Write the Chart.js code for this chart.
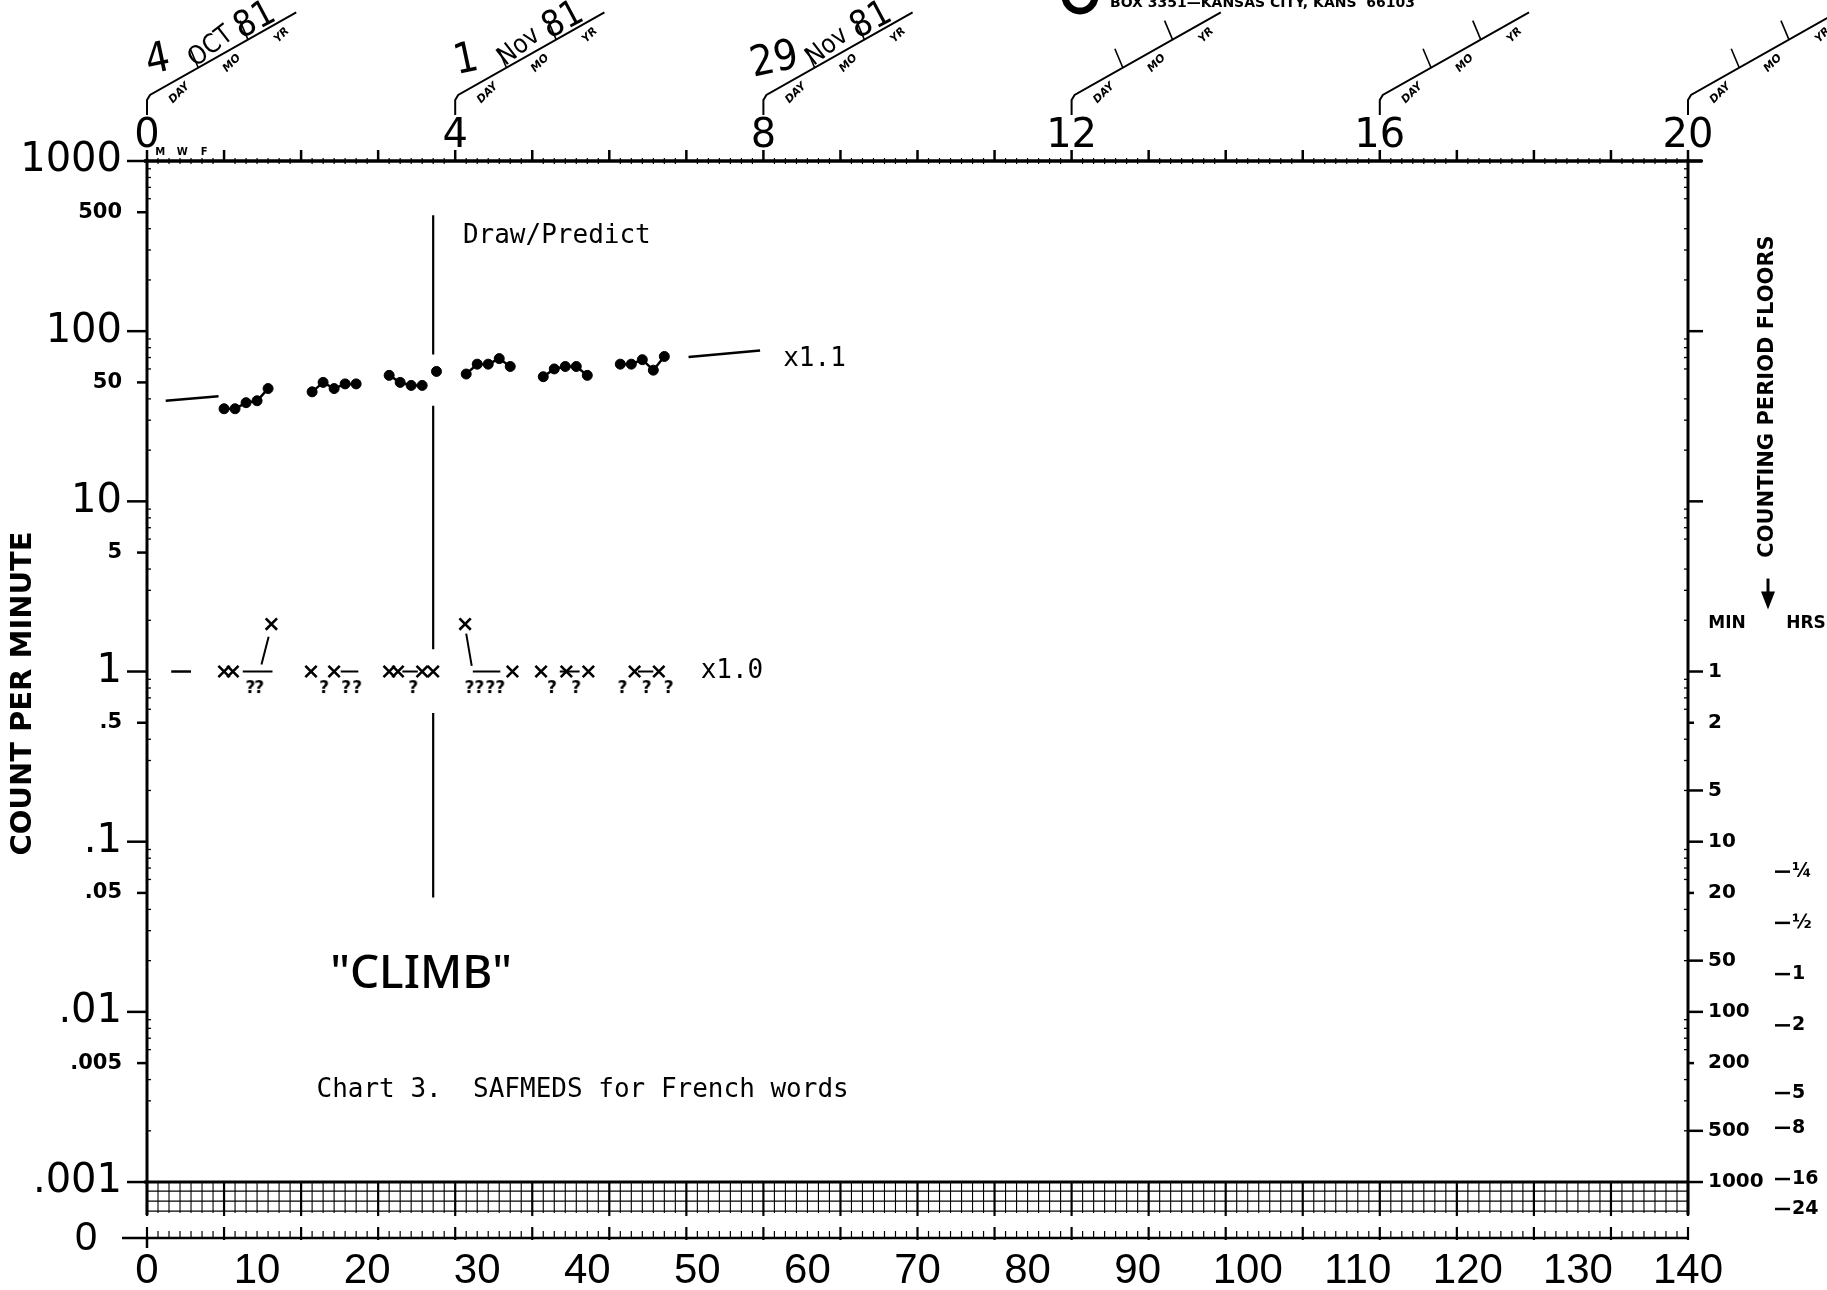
<!DOCTYPE html>
<html>
<head>
<meta charset="utf-8">
<title>Chart 3. SAFMEDS for French words</title>
<script src="https://cdn.jsdelivr.net/npm/chart.js@4.4.1/dist/chart.umd.min.js"></script>
<style>
  html, body { margin: 0; padding: 0; background: #fff; }
  #box { position: relative; width: 1827px; height: 1290px; }
</style>
</head>
<body>
<div id="box"><canvas id="scc"></canvas></div>
<script>
// ---- values: calendar days since 4 Oct 81, count per minute ----
const correctDays = [7, 8, 9, 10, 11, 15, 16, 17, 18, 19, 22, 23, 24, 25, 26.3, 29, 30, 31, 32, 33, 36, 37, 38, 39, 40, 43, 44, 45, 46, 47];
const correctCounts = [35, 35, 38, 39, 46, 44, 50, 46, 49, 49, 55, 50, 48, 48, 58, 56, 64, 64, 69, 62, 54, 60, 62, 62, 55, 64, 64, 68, 59, 71];

const errorDays = [7, 7.8, 11.3, 14.9, 17, 22, 22.8, 25, 26, 28.9, 33.2, 35.8, 38.1, 40.1, 44.3, 46.5];
const errorCounts = [1, 1, 1.9, 1, 1, 1, 1, 1, 1, 1.9, 1, 1, 1, 1, 1, 1];

// days with no errors, marked "?" just under the record floor
const zeroDays = [9.4, 10.2, 16.1, 18.1, 19.1, 24.2, 29.3, 30.2, 31.2, 32.1, 36.8, 39, 43.2, 45.4, 47.4];
const zeroMark = 0.8;

// record floor dashes (1 min counting period)
const floorCount = 1;
const floorDays = [[8.7, 11.4], [17.6, 19.2], [23.2, 24.6], [29.6, 32.1], [37.5, 39.3], [44.6, 46]];

// leader lines to the raised x's
const leaderDays = [[10.4, 11.05], [29.5, 29.0]];
const leaderCounts = [[1.1, 1.6], [1.08, 1.67]];

// celeration lines
const correctCelDays = [[1.7, 6.5], [49.2, 55.7]];
const correctCelCounts = [[39, 41.5], [70.5, 77]];
const errorCelDays = [[2.2, 4]];
const errorCelCounts = [[1, 1]];

// phase change line
const phaseDay = 26;
const phaseCounts = [[480, 73], [36.5, 1.35], [0.57, 0.047]];

// axes
const countTicks = [1000, 500, 100, 50, 10, 5, 1, 0.5, 0.1, 0.05, 0.01, 0.005, 0.001];
const countLabels = ['1000', '500', '100', '50', '10', '5', '1', '.5', '.1', '.05', '.01', '.005', '.001'];
const floorMinTicks = [1, 0.5, 0.2, 0.1, 0.05, 0.02, 0.01, 0.005, 0.002, 0.001];
const floorMinLabels = ['1', '2', '5', '10', '20', '50', '100', '200', '500', '1000'];
const floorHrTicks = [1 / 15, 1 / 30, 1 / 60, 1 / 120, 1 / 300, 1 / 480, 1 / 960, 1 / 1440];
const floorHrLabels = ['\u00bc', '\u00bd', '1', '2', '5', '8', '16', '24'];
const weekLabels = [0, 4, 8, 12, 16, 20];
const yBottom = 0.000469;

// date stamps
const stampDay = ['4', '1', '29'];
const stampMonth = ['OCT', 'Nov', 'Nov'];
const stampYear = ['81', '81', '81'];

// notes written on the chart
const noteTexts = ['Draw/Predict', 'x1.1', 'x1.0', '"CLIMB"', 'Chart 3.  SAFMEDS for French words'];
const noteDays = [28.7, 57.8, 50.3, 24.9, 15.4];
const noteCounts = [361, 68, 1, 0.0166, 0.00344];


function withBreaks(days, counts) {
  const pts = [];
  days.forEach((d, i) => {
    if (i > 0) {
      const prev = days[i - 1];
      if (d - prev > 1.5 || (prev < phaseDay && d >= phaseDay)) pts.push({ x: (prev + d) / 2, y: null });
    }
    pts.push({ x: d, y: counts[i] });
  });
  return pts;
}

function segments(dayPairs, countPairs) {
  const pts = [];
  dayPairs.forEach((p, i) => {
    if (i > 0) pts.push({ x: p[0], y: null });
    pts.push({ x: p[0], y: countPairs[i][0] });
    pts.push({ x: p[1], y: countPairs[i][1] });
  });
  return pts;
}

function isDecade(v) {
  if (!v) return false;
  const l = Math.log10(v);
  return Math.abs(l - Math.round(l)) < 1e-6;
}

function labelFor(list, labels, v) {
  const i = list.findIndex(t => Math.abs(t - v) / t < 1e-6);
  return i < 0 ? '' : labels[i];
}

// "?" point glyph
const qMark = document.createElement('canvas');
qMark.width = 14;
qMark.height = 22;
(function () {
  const c = qMark.getContext('2d');
  c.fillStyle = '#000';
  c.font = 'bold 17px "DejaVu Sans"';
  c.textAlign = 'center';
  c.textBaseline = 'middle';
  c.fillText('?', 7, 12);
})();

function seg(ctx, x1, y1, x2, y2, w) {
  ctx.lineWidth = w;
  ctx.beginPath();
  ctx.moveTo(x1, y1);
  ctx.lineTo(x2, y2);
  ctx.stroke();
}

function txt(ctx, s, x, y, font, align, rot) {
  ctx.save();
  ctx.translate(x, y);
  if (rot) ctx.rotate(rot * Math.PI / 180);
  ctx.font = font;
  ctx.textAlign = align || 'center';
  ctx.textBaseline = 'middle';
  ctx.fillText(s, 0, 0);
  ctx.restore();
}

// axis frame, ticks, floor band, zero line and stamps
const furniture = {
  id: 'furniture',
  beforeDatasetsDraw(chart) {
    const { ctx, chartArea: a, scales } = chart;
    const x = scales.x, y = scales.y, xw = scales.xWeek, yh = scales.yHr;
    const top = y.getPixelForValue(1000);
    const yFloor = y.getPixelForValue(0.001);
    const bandBottom = yFloor + 31;
    ctx.save();
    ctx.strokeStyle = '#000';
    ctx.fillStyle = '#000';

    // left / right axis, top line
    seg(ctx, a.left, top - 2, a.left, bandBottom + 2, 3);
    seg(ctx, a.right, top - 2, a.right, bandBottom + 2, 3);
    seg(ctx, a.left - 3, top, a.right + 14, top, 3.5);

    // left ticks
    countTicks.forEach(v => {
      const py = y.getPixelForValue(v);
      seg(ctx, a.left - (isDecade(v) ? 20 : 10), py, a.left, py, 2.5);
    });
    for (let e = -3; e < 3; e++) {
      [2, 3, 4, 6, 7, 8, 9].forEach(m => {
        const py = y.getPixelForValue(m * Math.pow(10, e));
        seg(ctx, a.left, py, a.left + 4, py, 1.3);
        seg(ctx, a.right - 4, py, a.right, py, 1.3);
      });
    }

    // right ticks
    [1000, 100, 10].forEach(v => {
      const py = y.getPixelForValue(v);
      seg(ctx, a.right, py, a.right + 15, py, 2.5);
    });
    floorMinTicks.forEach((v, i) => {
      const py = y.getPixelForValue(v);
      seg(ctx, a.right, py, a.right + (floorMinLabels[i].charAt(0) === '2' ? 6 : 15), py, 2.5);
    });
    floorHrTicks.forEach(v => {
      const py = yh.getPixelForValue(v);
      seg(ctx, yh.left + 11, py, yh.left + 26, py, 2.5);
    });

    // top: week and day ticks
    for (let w = 0; w <= 20; w++) {
      const px = xw.getPixelForValue(w);
      seg(ctx, px, top - 11, px, top, 2.5);
    }
    for (let d = 1; d < 140; d++) {
      if (d % 7 === 0) continue;
      const px = x.getPixelForValue(d);
      seg(ctx, px, top - 3, px, top + 3, 1.2);
    }
    ['M', 'W', 'F'].forEach((s, i) => {
      txt(ctx, s, x.getPixelForValue(1.2 + i * 2), top - 9, 'bold 10px "DejaVu Sans"');
    });

    // floor band under .001
    [9, 19, 29].forEach(o => seg(ctx, a.left, yFloor + o, a.right, yFloor + o, 1.3));
    seg(ctx, a.left - 3, yFloor, a.right, yFloor, 3);
    for (let d = 0; d <= 140; d++) {
      const px = x.getPixelForValue(d);
      if (d % 7 === 0) seg(ctx, px, yFloor, px, bandBottom + 3, 2.2);
      else seg(ctx, px, yFloor, px, bandBottom, 1.1);
    }

    // zero line
    const y0 = a.bottom;
    seg(ctx, a.left - 25, y0, a.right + 1, y0, 2.5);
    for (let d = 0; d <= 140; d++) {
      const px = x.getPixelForValue(d);
      if (d % 7 === 0) seg(ctx, px, y0 - 11, px, y0 + 2, 2.2);
      else seg(ctx, px, y0 - 7, px, y0, 1.2);
    }
    seg(ctx, a.left, y0, a.left, y0 + 10, 2.5);
    txt(ctx, '0', 86, y0 + 1, '40px "Liberation Sans"');

    // date stamps
    const ang = 29.5 * Math.PI / 180, L = 168;
    weekLabels.forEach((w, i) => {
      const bx = xw.getPixelForValue(w);
      const sx = bx + 3, sy = top - 66;
      const ex = sx + L * Math.cos(ang), ey = sy - L * Math.sin(ang);
      ctx.lineWidth = 2;
      ctx.beginPath();
      ctx.moveTo(bx, top - 46);
      ctx.lineTo(bx, top - 61);
      ctx.lineTo(sx, sy);
      ctx.lineTo(ex, ey);
      ctx.stroke();
      [0.33, 0.67].forEach(f => {
        const px = sx + f * (ex - sx), py = sy + f * (ey - sy);
        seg(ctx, px, py, px - 8, py - 19, 1.6);
      });
      ['DAY', 'MO', 'YR'].forEach((s, k) => {
        const f = [0.18, 0.54, 0.88][k];
        const px = sx + f * (ex - sx) + 3, py = sy + f * (ey - sy) + 13;
        txt(ctx, s, px, py, 'italic bold 11px "DejaVu Sans"', 'center', -45);
      });
      if (i < stampDay.length) {
        const hand = '"DejaVu Sans Condensed", "DejaVu Sans", sans-serif';
        txt(ctx, stampDay[i], bx + 11, top - 100, '42px ' + hand, 'center', -12);
        txt(ctx, stampMonth[i], bx + 64, top - 114, '26px ' + hand, 'center', -38);
        txt(ctx, stampYear[i], bx + 108, top - 140, '36px ' + hand, 'center', -28);
      }
    });

    ctx.restore();
  },
  afterDatasetsDraw(chart) {
    const { ctx, chartArea: a, scales } = chart;
    const x = scales.x, y = scales.y;
    ctx.save();
    ctx.fillStyle = '#000';
    ctx.strokeStyle = '#000';

    noteTexts.forEach((s, i) => {
      const px = x.getPixelForValue(noteDays[i]), py = y.getPixelForValue(noteCounts[i]);
      if (s === '"CLIMB"') txt(ctx, s, px, py, '500 46px "Noto Sans"', 'center');
      else txt(ctx, s, px, py, '26px "DejaVu Sans Mono"', 'left');
    });

    // axis titles
    txt(ctx, 'COUNT PER MINUTE', 23, (a.top + a.bottom) / 2 - 6, 'bold 29px "DejaVu Sans"', 'center', -90);
    const y1 = y.getPixelForValue(1);
    txt(ctx, 'COUNTING PERIOD FLOORS', a.right + 80, y1 - 275, 'bold 21px "DejaVu Sans"', 'center', -90);
    seg(ctx, a.right + 80, y1 - 93, a.right + 80, y1 - 76, 3);
    ctx.beginPath();
    ctx.moveTo(a.right + 73, y1 - 80);
    ctx.lineTo(a.right + 87, y1 - 80);
    ctx.lineTo(a.right + 80, y1 - 62);
    ctx.closePath();
    ctx.fill();
    txt(ctx, 'MIN', a.right + 39, y1 - 48, 'bold 17px "DejaVu Sans"');
    txt(ctx, 'HRS', a.right + 118, y1 - 48, 'bold 17px "DejaVu Sans"');

    // publisher line at the cut top edge
    ctx.lineWidth = 7;
    ctx.beginPath();
    ctx.arc(1080, -4, 15, 0, Math.PI * 2);
    ctx.stroke();
    ctx.font = 'bold 14px "DejaVu Sans"';
    ctx.textAlign = 'left';
    ctx.textBaseline = 'alphabetic';
    ctx.fillText('BOX 3351\u2014KANSAS CITY, KANS  66103', 1110, 7);
    ctx.restore();
  }
};

const lineStyle = { showLine: true, pointRadius: 0, borderColor: '#000', borderWidth: 2.5, spanGaps: false };

new Chart(document.getElementById('scc'), {
  type: 'scatter',
  data: {
    datasets: [
      { label: 'Corrects', data: withBreaks(correctDays, correctCounts), showLine: true, spanGaps: false,
        borderColor: '#000', backgroundColor: '#000', borderWidth: 2.5, pointRadius: 5, pointBorderWidth: 1 },
      { label: 'Errors', data: errorDays.map((d, i) => ({ x: d, y: errorCounts[i] })), showLine: false,
        pointStyle: 'crossRot', pointRadius: 8, pointBorderWidth: 2.6, borderColor: '#000' },
      { label: 'No errors', data: zeroDays.map(d => ({ x: d, y: zeroMark })), showLine: false, pointStyle: qMark },
      Object.assign({ label: 'Record floor', data: segments(floorDays, floorDays.map(() => [floorCount, floorCount])) }, lineStyle, { borderWidth: 2 }),
      Object.assign({ label: 'Leaders', data: segments(leaderDays, leaderCounts) }, lineStyle, { borderWidth: 2 }),
      Object.assign({ label: 'Correct celeration', data: segments(correctCelDays, correctCelCounts) }, lineStyle),
      Object.assign({ label: 'Error celeration', data: segments(errorCelDays, errorCelCounts) }, lineStyle),
      Object.assign({ label: 'Phase change', data: segments(phaseCounts.map(() => [phaseDay, phaseDay]), phaseCounts) }, lineStyle, { borderWidth: 2.2 })
    ]
  },
  options: {
    responsive: true,
    maintainAspectRatio: false,
    animation: false,
    events: [],
    layout: { padding: 0 },
    plugins: { legend: { display: false }, tooltip: { enabled: false } },
    scales: {
      x: {
        type: 'linear', position: 'bottom', min: 0, max: 140,
        afterFit: s => { s.height = 52; },
        grid: { display: false, drawTicks: false }, border: { display: false },
        ticks: { stepSize: 10, autoSkip: false, maxRotation: 0, padding: 8, color: '#000',
          font: { family: 'Liberation Sans', size: 42 } }
      },
      xWeek: {
        type: 'linear', position: 'top', min: 0, max: 20,
        afterBuildTicks: s => { s.ticks = weekLabels.map(v => ({ value: v })); },
        afterFit: s => { s.height = 161; },
        grid: { display: false, drawTicks: false }, border: { display: false },
        ticks: { autoSkip: false, maxRotation: 0, padding: 0, color: '#000',
          font: { family: 'DejaVu Sans', size: 40 } }
      },
      y: {
        type: 'logarithmic', position: 'left', min: yBottom, max: 1000,
        afterBuildTicks: s => { s.ticks = countTicks.map(v => ({ value: v })); },
        afterFit: s => { s.width = 147; },
        grid: { display: false, drawTicks: false }, border: { display: false },
        ticks: {
          autoSkip: false, padding: 25, color: '#000',
          callback: v => labelFor(countTicks, countLabels, v),
          font: c => isDecade(c.tick && c.tick.value)
            ? { family: 'DejaVu Sans', size: 40 }
            : { family: 'DejaVu Sans', size: 21, weight: 'bold' }
        }
      },
      yMin: {
        type: 'logarithmic', position: 'right', min: yBottom, max: 1000,
        afterBuildTicks: s => { s.ticks = floorMinTicks.map(v => ({ value: v })); },
        afterFit: s => { s.width = 76; },
        grid: { display: false, drawTicks: false }, border: { display: false },
        ticks: { autoSkip: false, padding: 20, color: '#000',
          callback: v => labelFor(floorMinTicks, floorMinLabels, v),
          font: { family: 'DejaVu Sans', size: 20, weight: 'bold' } }
      },
      yHr: {
        type: 'logarithmic', position: 'right', min: yBottom, max: 1000,
        afterBuildTicks: s => { s.ticks = floorHrTicks.map(v => ({ value: v })); },
        afterFit: s => { s.width = 63; },
        grid: { display: false, drawTicks: false }, border: { display: false },
        ticks: { autoSkip: false, padding: 28, color: '#000',
          callback: v => labelFor(floorHrTicks, floorHrLabels, v),
          font: { family: 'DejaVu Sans', size: 19, weight: 'bold' } }
      }
    }
  },
  plugins: [furniture]
});
</script>
</body>
</html>
